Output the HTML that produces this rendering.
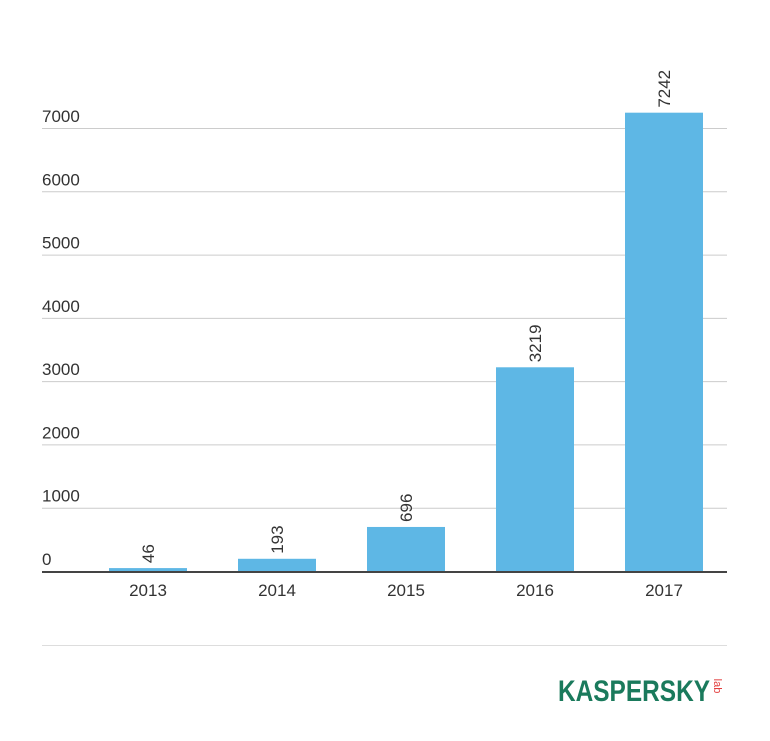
<!DOCTYPE html>
<html><head><meta charset="utf-8"><style>
body{margin:0;background:#fff;}
svg text{font-family:"Liberation Sans",sans-serif;}
</style></head><body>
<svg width="770" height="736" xmlns="http://www.w3.org/2000/svg">
<g id="grid"></g><g id="bars"></g><g id="xl"></g>
<line x1="42" x2="727" y1="645.5" y2="645.5" stroke="#ddd"/>
<g>
<text x="558" y="701" font-size="30" font-weight="bold" fill="#1a7a5c" textLength="152" lengthAdjust="spacingAndGlyphs">KASPERSKY</text>
<text transform="translate(714,686) rotate(90)" font-size="11" fill="#e23b3b" text-anchor="middle">lab</text>
</g>
</svg>
<script>
const categories=["2013","2014","2015","2016","2017"];
const values=[46,193,696,3219,7242];
const ticks=[0,1000,2000,3000,4000,5000,6000,7000];
const NS="http://www.w3.org/2000/svg";
const y0=571, k=(571-128)/7000;
function y(v){return y0-v*k;}
function x(i){return 148+i*129;}
function mk(t,a,p){const e=document.createElementNS(NS,t);for(const n in a)e.setAttribute(n,a[n]);p.appendChild(e);return e;}
const g=document.getElementById('grid'),b=document.getElementById('bars'),xl=document.getElementById('xl');
ticks.forEach(t=>{
 if(t>0){const l=mk('line',{x1:42,x2:727,y1:y(t)+0.5,y2:y(t)+0.5,stroke:'#ccc'},g);
 
 }
 const tx=mk('text',{x:42,y:y(t)-6,'font-size':17,fill:'#333'},g);tx.textContent=t;
 
 
});
categories.forEach((c,i)=>{
 const r=mk('rect',{x:x(i)-39,y:y(values[i]),width:78,height:y0-y(values[i]),fill:'#5eb7e5'},b);
 
 
 const v=mk('text',{transform:`translate(${x(i)+6},${y(values[i])-5}) rotate(-90)`,'font-size':17,fill:'#333'},b);v.textContent=values[i];
 
 
 const t=mk('text',{x:x(i),y:596,'font-size':17,fill:'#333','text-anchor':'middle'},xl);t.textContent=c;
 
 
});
const ax=mk('line',{x1:42,x2:727,y1:572,y2:572,stroke:'#444','stroke-width':2},xl);


</script>
</body></html>
